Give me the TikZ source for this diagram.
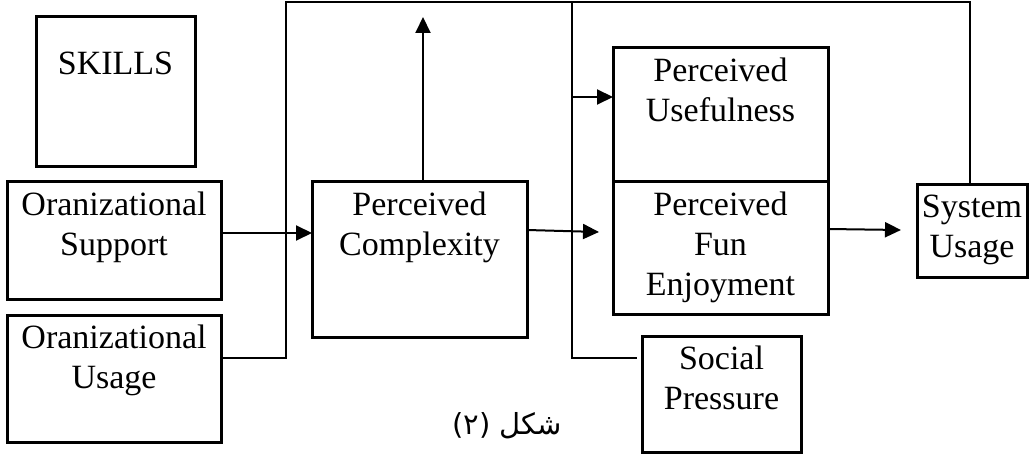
\documentclass[tikz,border=0pt]{standalone}
\usepackage{fontspec}
\setmainfont{Liberation Serif}
\newfontfamily\arabicfont[Script=Arabic]{DejaVu Sans}
\TeXXeTstate=1
\usetikzlibrary{arrows.meta}

\begin{document}
\begin{tikzpicture}[x=1pt,y=-1pt,
  blk/.style={draw, line width=3pt, inner sep=0pt, outer sep=0pt, anchor=north west},
  txt/.style={align=center, inner sep=0pt, anchor=north, font=\fontsize{34}{40}\selectfont},
  arr/.style={-{Triangle[length=16pt,width=15pt]}, line width=2pt},
  wire/.style={line width=1.3pt}]
\useasboundingbox (0,0) rectangle (1033,454);

% boxes
\node[blk, minimum width=159pt, minimum height=150pt] (sk) at (36,17) {};
\node[blk, minimum width=214pt, minimum height=117pt] (os) at (7,182) {};
\node[blk, minimum width=214pt, minimum height=127pt] (ou) at (7,315) {};
\node[blk, minimum width=215pt, minimum height=155pt] (cx) at (312,182) {};
\node[blk, minimum width=215pt, minimum height=134pt] (pu) at (613,48) {};
\node[blk, minimum width=215pt, minimum height=132pt] (pf) at (613,182) {};
\node[blk, minimum width=110pt, minimum height=93pt] (su) at (917,185) {};
\node[blk, minimum width=159pt, minimum height=116pt] (sp) at (642,336) {};

% box texts
\node[txt] (skt) at ([yshift=-35pt]sk.north) {SKILLS};
\node[txt] (ost) at ([yshift=-10pt]os.north) {Oranizational\\Support};
\node[txt] (out) at ([yshift=-10pt]ou.north) {Oranizational\\Usage};
\node[txt] (cxt) at ([yshift=-10pt]cx.north) {Perceived\\Complexity};
\node[txt] (put) at ([yshift=-10pt]pu.north) {Perceived\\Usefulness};
\node[txt] (pft) at ([yshift=-10pt]pf.north) {Perceived\\Fun\\Enjoyment};
\node[txt] (sut) at ([yshift=-10pt]su.north) {System\\Usage};
\node[txt] (spt) at ([yshift=-10pt]sp.north) {Social\\Pressure};

% caption
\node[font=\arabicfont\fontsize{29}{34}\selectfont, inner sep=0pt] (cap) at (507,426) {\beginR شكل (٢)\endR};

% junction points of the wiring
\coordinate (tl) at (286,2);
\coordinate (tm) at (572,2);
\coordinate (upend) at (423,17);
\coordinate (fe) at (599,232);
\coordinate (se) at (901,230);
\coordinate (puin) at ([yshift=18pt]pu.west);

% connectors
\draw[arr] ([yshift=7.5pt]os.east) -- ([yshift=26.5pt]cx.west);
\draw[wire] ([yshift=20.5pt]ou.east) -| (tl) -| ([xshift=-2pt]su.north);
\draw[wire, shorten >=5pt] (tm) |- ([yshift=36pt]sp.west);
\draw[arr] (cx.north -| upend) -- (upend);
\draw[arr] ([yshift=29.5pt]cx.east) -- (fe);
\draw[arr] (puin -| tm) -- (puin);
\draw[arr] ([yshift=19pt]pf.east) -- (se);
\end{tikzpicture}
\end{document}
